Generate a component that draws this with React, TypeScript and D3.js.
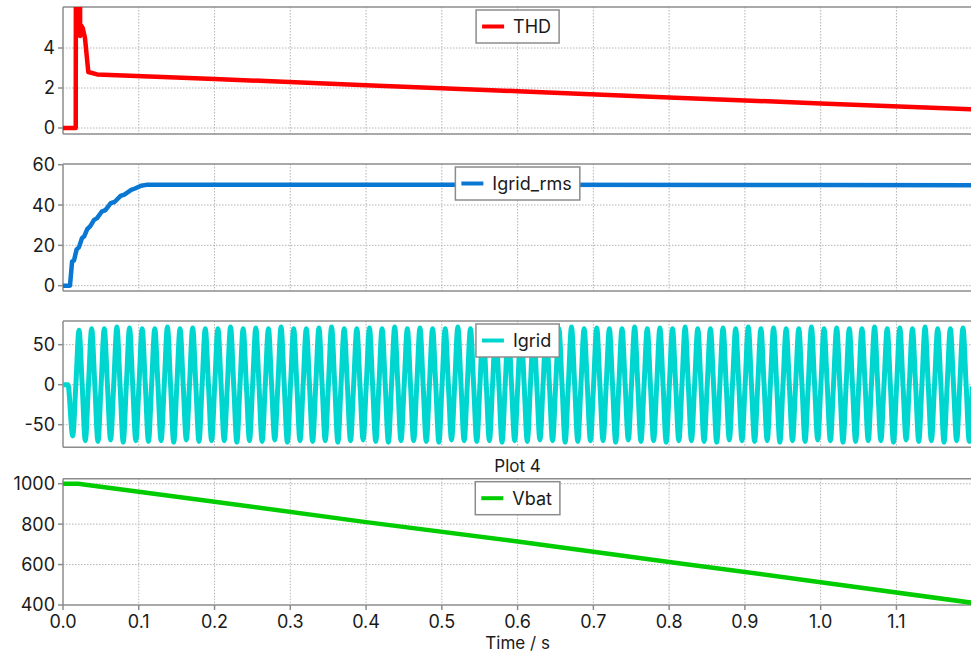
import React, { useEffect, useRef } from "react";
import * as d3 from "d3";

// THD (%)
const thdTime = [0, 0.0168, 0.0176, 0.022, 0.0226, 0.0245, 0.026, 0.029, 0.0334, 0.045, 0.2, 0.4, 0.6, 0.8, 1.0, 1.2];
const thdValue = [0, 0, 30, 30, 4.6, 5.1, 5.0, 4.5, 2.8, 2.68, 2.45, 2.14, 1.84, 1.53, 1.23, 0.93];

// Igrid_rms (A)
const rmsTime = [0, 0.0092, 0.012, 0.0145, 0.018, 0.021, 0.025, 0.028, 0.032, 0.036, 0.041, 0.045, 0.051, 0.056, 0.063, 0.068, 0.076, 0.081, 0.09, 0.095, 0.103, 0.11, 0.2, 0.6, 1.0, 1.2];
const rmsValue = [0, 0, 12, 12.5, 18, 19, 23.5, 24.5, 28, 29.5, 32.6, 33.5, 36.7, 37.5, 40.9, 41.5, 44.5, 45.2, 47.5, 48.2, 49.6, 50, 50.1, 50, 49.9, 49.8];

// Igrid (A): 60 Hz, extremes
const igridStart = 0.0065;
const igridFirstTrough = 0.0128;
const igridFreq = 60;
const igridTroughs = [-64, -70, -71, -69, -72, -70, -71, -70, -72, -69, -71, -70, -70, -72, -70, -71, -69, -72, -70, -71, -70, -72, -70, -69, -71, -72, -70, -70, -71, -72, -69, -70, -71, -70, -72, -70, -71, -69, -70, -72, -71, -70, -70, -72, -69, -71, -70, -72, -70, -70, -71, -72, -69, -70, -71, -70, -72, -70, -71, -69, -70, -72, -71, -70, -70, -72, -69, -71, -70, -72, -70, -71];
const igridPeaks = [68, 70, 70, 72, 71, 70, 70, 72, 70, 71, 70, 70, 72, 70, 71, 70, 72, 70, 70, 71, 72, 70, 70, 71, 70, 72, 70, 71, 70, 70, 72, 70, 71, 70, 70, 72, 71, 70, 70, 72, 70, 71, 70, 70, 72, 70, 71, 70, 72, 70, 70, 71, 70, 72, 70, 71, 70, 70, 72, 70, 71, 70, 70, 72, 70, 71, 70, 72, 70, 70, 71];
const igridEnd = -2;

// Vbat (V)
const vbatTime = [0, 0.02, 0.05, 0.1, 0.2, 0.4, 0.6, 0.8, 1.0, 1.2];
const vbatValue = [1000, 1000, 985, 960, 911, 810, 714, 613, 513, 411];

const xTicks = [0, 0.1, 0.2, 0.3, 0.4, 0.5, 0.6, 0.7, 0.8, 0.9, 1.0, 1.1];

const FONT = "Inter, 'Noto Sans', sans-serif";

export default function App() {
  const ref = useRef<SVGSVGElement>(null);

  useEffect(() => {
    const svg = d3.select(ref.current);
    svg.selectAll("*").remove();

    const x = d3.scaleLinear().domain([0, 1.2]).range([63, 972.2]);

    // igrid points from extremes + zero crossings
    const half = 1 / (2 * igridFreq);
    const igrid: [number, number][] = [[0, 0], [igridStart, 0]];
    for (let k = 0; k < igridTroughs.length; k++) {
      const tt = igridFirstTrough + k / igridFreq;
      if (k > 0) igrid.push([tt - half / 2, 0]);
      igrid.push([tt, igridTroughs[k]]);
      if (k < igridPeaks.length) {
        igrid.push([tt + half / 2, 0]);
        igrid.push([tt + half, igridPeaks[k]]);
      }
    }
    igrid.push([1.2, igridEnd]);

    const panels = [
      { top: 7, bottom: 134, domain: [-0.3, 6.05], ticks: [0, 2, 4], grid: [0, 2, 4], name: "THD", color: "#ff0000", width: 4.5,
        data: thdTime.map((t, i) => [t, thdValue[i]] as [number, number]), curve: d3.curveLinear },
      { top: 164, bottom: 291, domain: [-2.65, 60.35], ticks: [0, 20, 40, 60], grid: [0, 20, 40], name: "Igrid_rms", color: "#0a78d2", width: 4.5,
        data: rmsTime.map((t, i) => [t, rmsValue[i]] as [number, number]), curve: d3.curveLinear },
      { top: 321, bottom: 447.3, domain: [-78.25, 79.6], ticks: [-50, 0, 50], grid: [-50, 0, 50], name: "Igrid", color: "#00d6d0", width: 5,
        data: igrid, curve: d3.curveMonotoneX },
      { top: 478.7, bottom: 605, domain: [400, 1024.7], ticks: [400, 600, 800, 1000], grid: [600, 800, 1000], name: "Vbat", color: "#00cc00", width: 4.5,
        data: vbatTime.map((t, i) => [t, vbatValue[i]] as [number, number]), curve: d3.curveLinear },
    ];

    panels.forEach((p, pi) => {
      const y = d3.scaleLinear().domain(p.domain).range([p.bottom, p.top]);
      const g = svg.append("g");
      const clipId = "clip" + pi;
      g.append("clipPath").attr("id", clipId).append("rect")
        .attr("x", 63).attr("y", p.top).attr("width", 972.2 - 63).attr("height", p.bottom - p.top);

      // grid
      g.selectAll(".vg").data(xTicks.slice(1)).enter().append("line")
        .attr("x1", d => x(d)).attr("x2", d => x(d)).attr("y1", p.top).attr("y2", p.bottom)
        .attr("stroke", "#b4b4b4").attr("stroke-width", 1).attr("stroke-dasharray", "1.5,1.5");
      g.selectAll(".hg").data(p.grid).enter().append("line")
        .attr("x1", 63).attr("x2", 972).attr("y1", d => y(d)).attr("y2", d => y(d))
        .attr("stroke", "#b4b4b4").attr("stroke-width", 1).attr("stroke-dasharray", "1.5,1.5");

      // frame
      g.append("line").attr("x1", 63).attr("x2", 972).attr("y1", p.top).attr("y2", p.top).attr("stroke", "#8c8c8c").attr("stroke-width", 1.5);
      g.append("line").attr("x1", 63).attr("x2", 972).attr("y1", p.bottom).attr("y2", p.bottom).attr("stroke", "#8c8c8c").attr("stroke-width", 1.5);
      g.append("line").attr("x1", 63).attr("x2", 63).attr("y1", p.top).attr("y2", p.bottom).attr("stroke", "#8c8c8c").attr("stroke-width", 1.5);

      // y ticks
      g.selectAll(".yt").data(p.ticks).enter().append("line")
        .attr("x1", 58).attr("x2", 63).attr("y1", d => y(d)).attr("y2", d => y(d))
        .attr("stroke", "#8c8c8c").attr("stroke-width", 1.5);
      g.selectAll(".yl").data(p.ticks).enter().append("text")
        .attr("x", 55).attr("y", d => y(d)).attr("dy", "0.36em")
        .attr("text-anchor", "end").attr("font-family", FONT).attr("font-size", 18).attr("fill", "#1a1a1a")
        .text(d => String(d));

      // series
      const line = d3.line<[number, number]>().x(d => x(d[0])).y(d => y(d[1])).curve(p.curve);
      g.append("path").attr("d", line(p.data) || "").attr("fill", "none")
        .attr("stroke", p.color).attr("stroke-width", p.width).attr("stroke-linejoin", "round")
        .attr("clip-path", `url(#${clipId})`);

      // legend
      const lg = g.append("g");
      const txt = lg.append("text").attr("font-family", FONT).attr("font-size", 18).attr("fill", "#1a1a1a").text(p.name);
      const tw = (txt.node() as SVGTextElement).getComputedTextLength();
      const bw = 6 + 22 + 9 + tw + 8;
      const bx = (63 + 972.2) / 2 - bw / 2;
      const by = p.top + 3;
      const bh = 33;
      lg.insert("rect", "text").attr("x", bx).attr("y", by).attr("width", bw).attr("height", bh)
        .attr("fill", "#ffffff").attr("stroke", "#8c8c8c").attr("stroke-width", 1.5);
      lg.insert("line", "text").attr("x1", bx + 6).attr("x2", bx + 28).attr("y1", by + bh / 2).attr("y2", by + bh / 2)
        .attr("stroke", p.color).attr("stroke-width", 4);
      txt.attr("x", bx + 37).attr("y", by + bh / 2).attr("dy", "0.36em");
    });

    // x axis on last panel
    const last = panels[3];
    svg.selectAll(".xt").data(xTicks).enter().append("line")
      .attr("x1", d => x(d)).attr("x2", d => x(d)).attr("y1", last.bottom).attr("y2", last.bottom + 5)
      .attr("stroke", "#8c8c8c").attr("stroke-width", 1.5);
    svg.selectAll(".xl").data(xTicks).enter().append("text")
      .attr("x", d => x(d)).attr("y", 628).attr("text-anchor", "middle")
      .attr("font-family", FONT).attr("font-size", 18).attr("fill", "#1a1a1a")
      .text(d => d3.format(".1f")(d));

    svg.append("text").attr("x", 517.6).attr("y", 472).attr("text-anchor", "middle")
      .attr("font-family", FONT).attr("font-size", 17).attr("fill", "#1a1a1a").text("Plot 4");
    svg.append("text").attr("x", 517.6).attr("y", 649).attr("text-anchor", "middle")
      .attr("font-family", FONT).attr("font-size", 17).attr("fill", "#1a1a1a").text("Time / s");
  }, []);

  return (
    <svg ref={ref} width={971} height={657}
      style={{ position: "absolute", left: 0, top: 0, background: "#ffffff" }} />
  );
}
